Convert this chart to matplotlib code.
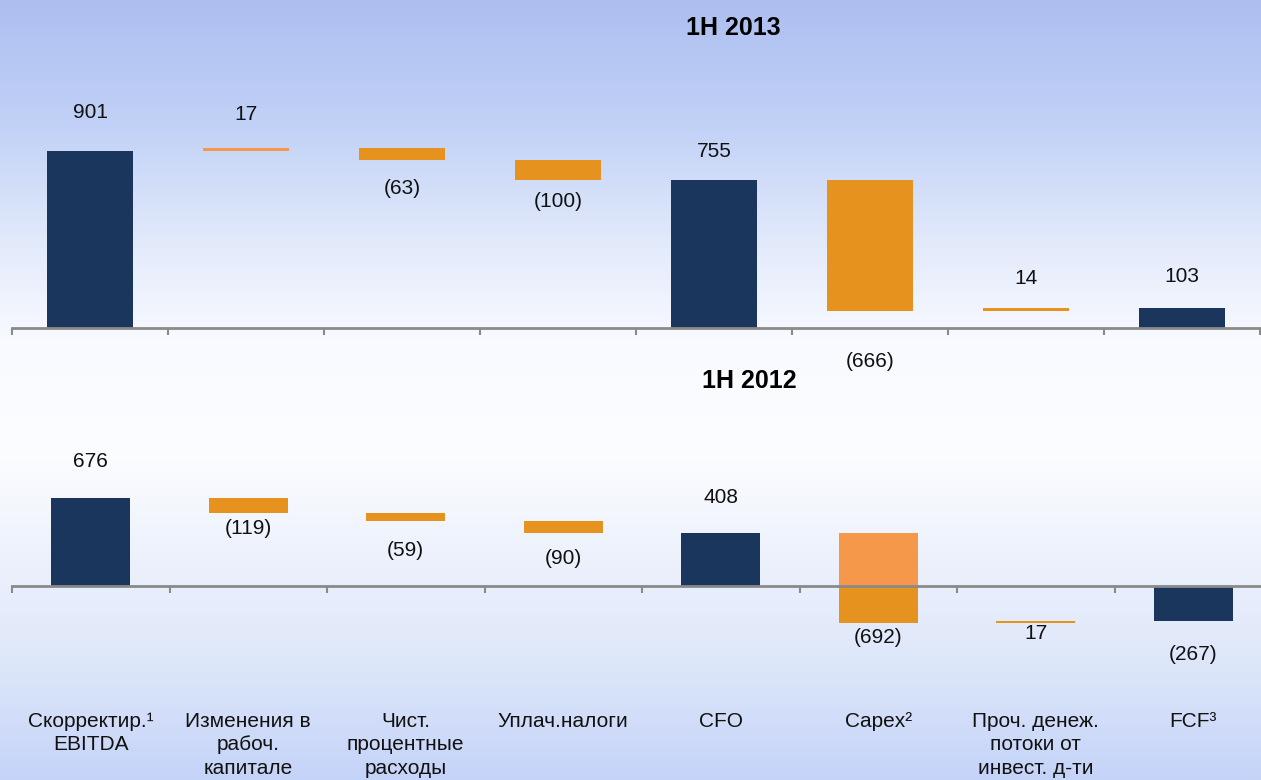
import numpy as np
import matplotlib
matplotlib.use("Agg")
import matplotlib.pyplot as plt
from matplotlib.transforms import blended_transform_factory

plt.rcParams['font.family'] = ['Liberation Sans', 'DejaVu Sans']

# Data
categories = ['Скорректир.¹\nEBITDA', 'Изменения в\nрабоч.\nкапитале',
              'Чист.\nпроцентные\nрасходы', 'Уплач.налоги', 'CFO', 'Capex²',
              'Проч. денеж.\nпотоки от\nинвест. д-ти', 'FCF³']
is_total = [True, False, False, False, True, False, False, True]
values_2013 = [901, 17, -63, -100, 755, -666, 14, 103]
values_2012 = [676, -119, -59, -90, 408, -692, 17, -267]

# Colours
NAVY = '#1b365d'
ORANGE = '#e6921f'
LIGHT_ORANGE = '#f5984a'
AXIS_GREY = '#8a8a8a'

W, H = 1261, 780
fig = plt.figure(figsize=(W / 100, H / 100), dpi=100)

# Sky-like background gradient
bg = fig.add_axes([0, 0, 1, 1], zorder=-10)
stops_y = [0, 120, 250, 340, 450, 560, 660, 780]
stops_c = np.array([(173, 191, 240), (192, 208, 246), (228, 235, 251),
                    (248, 250, 255), (252, 253, 255), (236, 241, 252),
                    (222, 231, 250), (196, 211, 248)]) / 255.0
yy = np.arange(H)
grad = np.stack([np.interp(yy, stops_y, stops_c[:, k]) for k in range(3)], axis=-1)
grad = np.repeat(grad[:, None, :], 2, axis=1)
bg.imshow(grad, aspect='auto', extent=[0, 1, 0, 1], origin='upper')
bg.axis('off')


def px_rect(left, top, right, bottom):
    # pixel box (from top-left) to figure fraction
    return [left / W, 1 - bottom / H, (right - left) / W, (bottom - top) / H]


def waterfall(ax, values, width, label_offsets, light_first_neg=False):
    running = 0
    ends = []
    for i, (v, tot) in enumerate(zip(values, is_total)):
        if tot:
            lo, hi = min(0, v), max(0, v)
            ax.bar(i, hi - lo, bottom=lo, width=width, color=NAVY, zorder=2)
            running = v
        else:
            start, end = running, running + v
            lo, hi = min(start, end), max(start, end)
            if light_first_neg and lo < 0 < hi:
                ax.bar(i, hi, bottom=0, width=width, color=LIGHT_ORANGE, zorder=2)
                ax.bar(i, -lo, bottom=lo, width=width, color=ORANGE, zorder=2)
            else:
                ax.bar(i, hi - lo, bottom=lo, width=width,
                       color=LIGHT_ORANGE if (i == 1 and v > 0) else ORANGE,
                       zorder=2)
            running = end
        ends.append((lo, hi))

    for i, v in enumerate(values):
        lo, hi = ends[i]
        off = label_offsets[i]
        anchor = hi if off > 0 else lo
        txt = str(v) if v >= 0 else '(%d)' % -v
        ax.annotate(txt, (i, anchor), xytext=(0, off), textcoords='offset pixels',
                    ha='center', va='center', fontsize=15, color='#111111')

    ax.set_xlim(-0.5, 7.5)
    ax.patch.set_alpha(0)
    for s in ['top', 'left', 'right']:
        ax.spines[s].set_visible(False)
    ax.spines['bottom'].set_position(('data', 0))
    ax.spines['bottom'].set_color(AXIS_GREY)
    ax.spines['bottom'].set_linewidth(2)
    ax.spines['bottom'].set_zorder(3)
    ax.set_yticks([])
    ax.set_xticks(np.arange(-0.5, 8, 1))
    ax.set_xticklabels([])
    ax.tick_params(axis='x', direction='out', length=5, width=1.5, color=AXIS_GREY)


# 1H 2013
ax1 = fig.add_axes(px_rect(12, 40, 1260, 375))
waterfall(ax1, values_2013, 0.55, [39, 33, -28, -22, 28, -51, 29, 31])
ax1.set_ylim(-239, 1466)
fig.text(733 / W, 1 - 28 / H, '1H 2013', ha='center', va='center',
         fontsize=18, fontweight='bold')

# 1H 2012
ax2 = fig.add_axes(px_rect(12, 400, 1272, 700))
waterfall(ax2, values_2012, 0.5, [37, -15, -29, -26, 35, -15, -11, -34],
          light_first_neg=True)
ax2.set_ylim(-876, 1429)
fig.text(749 / W, 1 - 381 / H, '1H 2012', ha='center', va='center',
         fontsize=18, fontweight='bold')

# category labels under the lower chart
trans = blended_transform_factory(ax2.transData, fig.transFigure)
for i, name in enumerate(categories):
    ax2.text(i, 1 - 712 / H, name, transform=trans, ha='center', va='top',
             multialignment='center', fontsize=15, linespacing=1.3, color='#111111')

fig.savefig('out.png', dpi=100)
